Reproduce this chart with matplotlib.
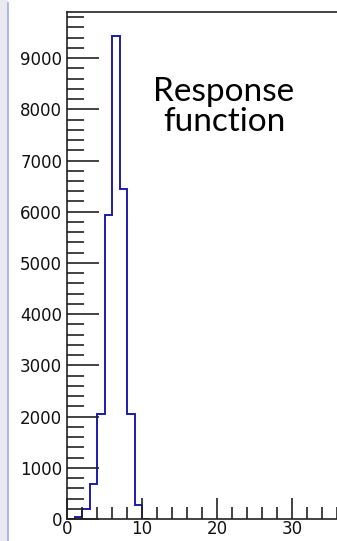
import matplotlib
matplotlib.use("Agg")
from matplotlib import pyplot as plt
from matplotlib.ticker import MultipleLocator
import matplotlib.patches as patches
from matplotlib.lines import Line2D
import numpy as np

# bin edges and counts of the response function histogram
bin_edges = [0, 1, 2, 3, 4, 5, 6, 7, 8, 9, 10, 11]
counts = [0, 40, 190, 690, 2050, 5940, 9430, 6440, 2050, 280, 0]

x_ticks = [0, 10, 20, 30]
y_ticks = [0, 1000, 2000, 3000, 4000, 5000, 6000, 7000, 8000, 9000]

W, H = 337, 541
fig = plt.figure(figsize=(W / 100, H / 100), dpi=100)

# slide edge on the left
fig.patches.append(patches.Rectangle((0, 0), 7.5 / W, 1, transform=fig.transFigure,
                                     facecolor="#e9e9f0", edgecolor="none", zorder=0))
fig.lines.append(Line2D([7.5 / W, 7.5 / W], [0, 0.995], transform=fig.transFigure,
                        color="#a8a8f0", lw=1.2))

x0, y0 = 67, 519
ax = fig.add_axes([x0 / W, (H - y0) / H, (W - x0) / W, (y0 - 12) / H])
ax.stairs(counts, bin_edges, color="#1c1ca8", lw=1.4)

ax.set_xlim(0, (W - x0) / 7.5)
ax.set_ylim(0, 9900)
ax.spines["right"].set_visible(False)
for s in ["left", "bottom", "top"]:
    ax.spines[s].set_color("#222222")
    ax.spines[s].set_linewidth(1.2)

ax.set_xticks(x_ticks)
ax.set_yticks(y_ticks)
ax.xaxis.set_minor_locator(MultipleLocator(2))
ax.yaxis.set_minor_locator(MultipleLocator(200))
ax.tick_params(which="both", direction="in", top=False, right=False, color="#222222", width=1.2)
ax.tick_params(axis="y", which="major", length=23, pad=3.5)
ax.tick_params(axis="y", which="minor", length=12)
ax.tick_params(axis="x", which="major", length=15, pad=0.5)
ax.tick_params(axis="x", which="minor", length=9)
for lab in ax.get_xticklabels() + ax.get_yticklabels():
    lab.set_fontfamily("DejaVu Sans")
    lab.set_fontsize(12)
    lab.set_color("#111111")

fig.text(224 / W, 1 - 107 / H, "Response\nfunction", ha="center", va="center",
         fontsize=24, family="Lato", linespacing=1.0, color="black")

plt.savefig("out.png", dpi=100)
